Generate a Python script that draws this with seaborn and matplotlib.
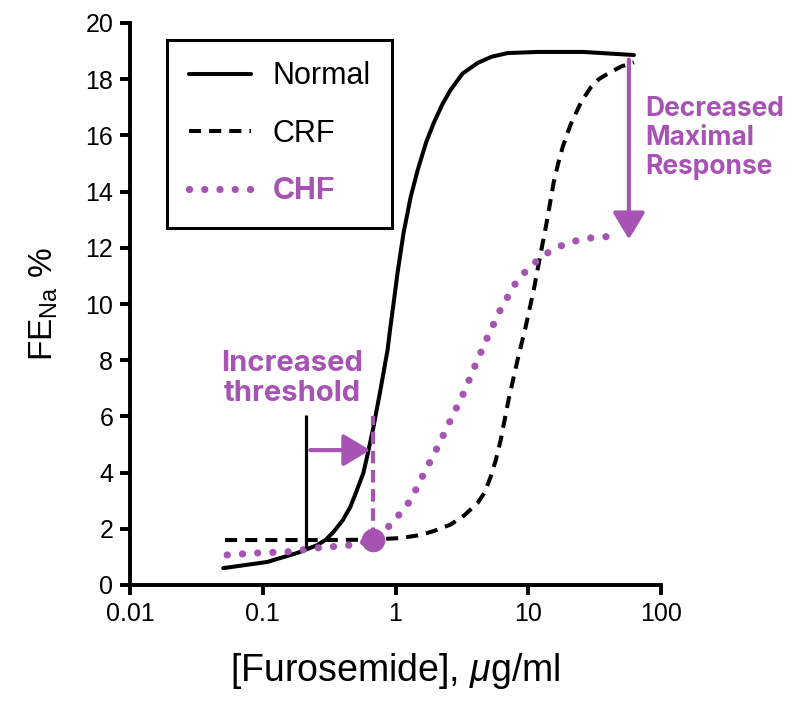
import matplotlib
matplotlib.use("Agg")
import matplotlib.pyplot as plt
from matplotlib.patches import ArrowStyle
import seaborn as sns

# ---- data ----
normal_x = [0.0504, 0.108, 0.182, 0.258, 0.30, 0.34, 0.40, 0.457, 0.50, 0.573, 0.62, 0.682, 0.77,
            0.871, 0.916, 0.966, 1.035, 1.15, 1.3, 1.47, 1.7, 1.94, 2.25, 2.6, 3.2, 4.16,
            5.3, 7.0, 11.8, 26.0, 62.5]
normal_y = [0.60, 0.82, 1.14, 1.42, 1.62, 1.88, 2.3, 2.78, 3.25, 3.99, 4.7, 5.62, 6.94,
            8.36, 9.2, 10.0, 11.1, 12.53, 13.8, 14.77, 15.75, 16.44, 17.1, 17.62, 18.2, 18.58,
            18.8, 18.93, 18.97, 18.97, 18.86]

crf_x = [0.052, 0.15, 0.30, 0.55, 0.9, 1.09, 1.55, 1.94, 2.2, 2.6, 3.3, 4.16, 4.7, 5.2, 5.7, 6.2,
         7.1, 8.3, 9.55, 11.0, 12.4, 13.2, 14.0, 15.5, 16.8, 18.2, 20.9, 25.1, 29.5, 34.0,
         39.8, 50.0, 62.5]
crf_y = [1.60, 1.60, 1.60, 1.61, 1.65, 1.67, 1.78, 1.92, 2.02, 2.15, 2.48, 2.92, 3.3, 3.84, 4.45, 5.16,
         6.58, 8.0, 9.18, 10.5, 11.8, 12.45, 13.1, 14.3, 15.0, 15.6, 16.4, 17.2, 17.7, 18.0,
         18.2, 18.45, 18.6]

chf_x = [0.054, 0.091, 0.153, 0.258, 0.457, 0.682, 0.916, 1.09, 1.30, 1.63, 2.07, 2.6, 3.26,
         4.02, 4.94, 6.2, 8.05, 9.5, 11.4, 14.3, 18.2, 23.0, 29.5, 39.8]
chf_y = [1.07, 1.14, 1.18, 1.32, 1.42, 1.60, 2.14, 2.56, 3.02, 3.95, 4.9, 5.87, 6.83,
         7.86, 8.83, 9.82, 10.75, 11.15, 11.5, 11.85, 12.1, 12.25, 12.35, 12.4]

series_labels = ["Normal", "CRF", "CHF"]
x_ticks = [0.01, 0.1, 1, 10, 100]
x_tick_labels = ["0.01", "0.1", "1", "10", "100"]
y_ticks = list(range(0, 21, 2))

# annotation values
normal_threshold_x = 0.213
chf_threshold_x = 0.682
chf_threshold_y = 1.60
max_arrow_x = 57.3
max_normal_y = 18.7
max_chf_y = 12.3

PURPLE = "#A653B3"

sns.set_style("ticks")
plt.rcParams["font.family"] = ["Liberation Sans", "DejaVu Sans"]
plt.rcParams["mathtext.fontset"] = "custom"
plt.rcParams["mathtext.rm"] = "Liberation Sans"
plt.rcParams["mathtext.it"] = "Liberation Sans:italic"
for k in ["text.color", "axes.labelcolor", "xtick.color", "ytick.color", "axes.edgecolor"]:
    plt.rcParams[k] = "black"

fig = plt.figure(figsize=(8.07, 7.18), dpi=100)
ax = fig.add_axes([130 / 807, 1 - 585 / 718, 531 / 807, 562 / 718])
ax.set_xscale("log")

sns.lineplot(x=normal_x, y=normal_y, ax=ax, color="black", linewidth=2.9,
             label=series_labels[0], sort=True)
sns.lineplot(x=crf_x, y=crf_y, ax=ax, color="black", linewidth=2.9,
             linestyle=(0, (3.0, 2.0)), label=series_labels[1], sort=True)
sns.lineplot(x=chf_x, y=chf_y, ax=ax, color=PURPLE, linewidth=5.2,
             linestyle=(0, (0.01, 2.1)), dash_capstyle="round",
             label=series_labels[2], sort=True)

# increased threshold annotations
ax.plot([normal_threshold_x, normal_threshold_x], [1.3, 6.05], color="black", lw=2.3,
        solid_capstyle="butt")
ax.plot([chf_threshold_x, chf_threshold_x], [chf_threshold_y, 6.0], color=PURPLE, lw=3,
        linestyle=(0, (3.0, 1.6)))
ax.plot([chf_threshold_x], [chf_threshold_y], marker="o", markersize=17, color=PURPLE,
        markeredgewidth=0, zorder=5)
astyle = ArrowStyle("-|>", head_length=0.4, head_width=0.24)
ax.annotate("", xy=(0.645, 4.8), xytext=(0.228, 4.8),
            arrowprops=dict(arrowstyle=astyle, color=PURPLE, lw=3, mutation_scale=41,
                            shrinkA=0, shrinkB=0))
ax.text(0.167, 7.35, "Increased\nthreshold", ha="center", va="center", color=PURPLE,
        fontsize=21, fontweight="bold", family=["Inter", "Roboto", "DejaVu Sans"],
        linespacing=1.15)

# decreased maximal response annotation
ax.annotate("", xy=(max_arrow_x, max_chf_y), xytext=(max_arrow_x, max_normal_y),
            arrowprops=dict(arrowstyle=astyle, color=PURPLE, lw=3, mutation_scale=41,
                            shrinkA=0, shrinkB=0))
ax.text(76.0, 15.9, "Decreased\nMaximal\nResponse", ha="left", va="center", color=PURPLE,
        fontsize=19, fontweight="bold", family=["Inter", "Roboto", "DejaVu Sans"],
        linespacing=1.15)

ax.set_xlim(0.01, 100)
ax.set_ylim(0, 20)
ax.set_xticks(x_ticks)
ax.set_xticklabels(x_tick_labels)
ax.xaxis.set_minor_locator(matplotlib.ticker.NullLocator())
ax.set_yticks(y_ticks)
ax.tick_params(axis="both", labelsize=18, width=2.8, length=7, pad=5, color="black",
               labelcolor="black")
for side in ["left", "bottom"]:
    ax.spines[side].set_linewidth(2.8)
    ax.spines[side].set_color("black")
sns.despine(ax=ax)

ax.set_xlabel(r"[Furosemide], $\mu$g/ml", fontsize=27, labelpad=18, color="black")
ax.set_ylabel(r"FE$_{\mathrm{Na}}$ %", fontsize=24, labelpad=18, color="black")

leg = ax.legend(loc="upper left", bbox_to_anchor=(0.07, 0.97), borderaxespad=0,
                fontsize=22, frameon=True, fancybox=False, edgecolor="black",
                handlelength=2.05, handletextpad=0.7, labelspacing=0.9, borderpad=0.7)
leg.get_frame().set_linewidth(2.2)
leg.get_frame().set_alpha(None)
texts = leg.get_texts()
for t in texts:
    t.set_color("black")
texts[2].set_color(PURPLE)
texts[2].set_fontweight("bold")

fig.savefig("out.png", dpi=100)
